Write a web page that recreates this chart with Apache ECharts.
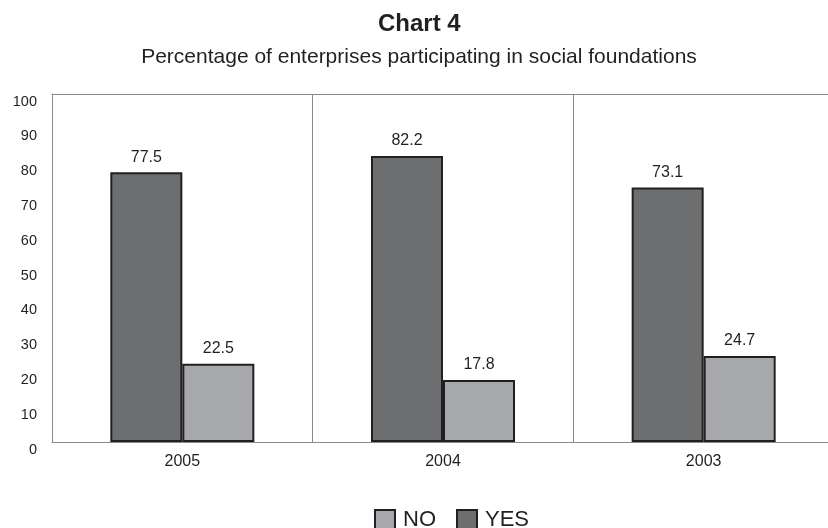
<!DOCTYPE html>
<html>
<head>
<meta charset="utf-8">
<script src="https://cdn.jsdelivr.net/npm/echarts@6/dist/echarts.min.js"></script>
<style>
html,body{margin:0;padding:0;background:#fff;overflow:hidden;}
#chart{width:838px;height:528px;}
</style>
</head>
<body>
<div id="chart"></div>
<script>
const categories = ['2005', '2004', '2003'];
const yesValues = [77.5, 82.2, 73.1];
const noValues = [22.5, 17.8, 24.7];
const yTicks = [0, 10, 20, 30, 40, 50, 60, 70, 80, 90, 100];

const FONT = '"Liberation Sans", Arial, sans-serif';
const chart = echarts.init(document.getElementById('chart'));
const labelCfg = {
  show: true, position: 'top', distance: 7,
  fontFamily: FONT, fontSize: 16, color: '#231f20'
};
chart.setOption({
  animation: false,
  backgroundColor: '#ffffff',
  title: [
    { text: 'Chart 4', left: 373, top: 7,
      textStyle: { fontFamily: FONT, fontSize: 24, fontWeight: 'bold', color: '#231f20' } },
    { text: 'Percentage of enterprises participating in social foundations', left: 414, textAlign: 'center', top: 42,
      textStyle: { fontFamily: FONT, fontSize: 21, fontWeight: 'normal', color: '#231f20' } }
  ],
  legend: {
    data: ['NO', 'YES'],
    top: 504, left: 369,
    icon: 'rect', itemWidth: 20, itemHeight: 20, itemGap: 20,
    textStyle: { fontFamily: FONT, fontSize: 22, color: '#231f20', padding: [0, 0, 0, 3] }
  },
  grid: { left: 52, right: 4, top: 94, bottom: 86, containLabel: false },
  xAxis: [
    {
      type: 'category', data: categories, boundaryGap: true,
      axisLine: { show: true, lineStyle: { color: '#8a8a8a', width: 1 } },
      axisTick: { show: false },
      splitLine: { show: true, lineStyle: { color: '#8a8a8a', width: 1 } },
      axisLabel: { fontFamily: FONT, fontSize: 16, color: '#231f20', margin: 12 }
    },
    {
      type: 'category', data: categories, position: 'top',
      axisLine: { show: true, lineStyle: { color: '#8a8a8a', width: 1 } },
      axisTick: { show: false }, axisLabel: { show: false }
    }
  ],
  yAxis: {
    type: 'value', min: 0, max: 100, interval: 10,
    axisLine: { show: true, lineStyle: { color: '#8a8a8a', width: 1 } },
    axisTick: { show: false },
    splitLine: { show: false },
    axisLabel: {
      fontFamily: FONT, fontSize: 14.5, color: '#231f20', margin: 15,
      verticalAlign: 'top',
      formatter: v => yTicks.includes(v) ? String(v) : ''
    }
  },
  series: [
    {
      name: 'YES', type: 'bar', data: yesValues, barWidth: 72, barGap: '0%',
      itemStyle: { color: '#6d6e70', borderColor: '#231f20', borderWidth: 2 },
      label: labelCfg
    },
    {
      name: 'NO', type: 'bar', data: noValues, barWidth: 72, barGap: '0%',
      itemStyle: { color: '#a7a8ab', borderColor: '#231f20', borderWidth: 2 },
      label: labelCfg
    }
  ]
});
</script>
</body>
</html>
